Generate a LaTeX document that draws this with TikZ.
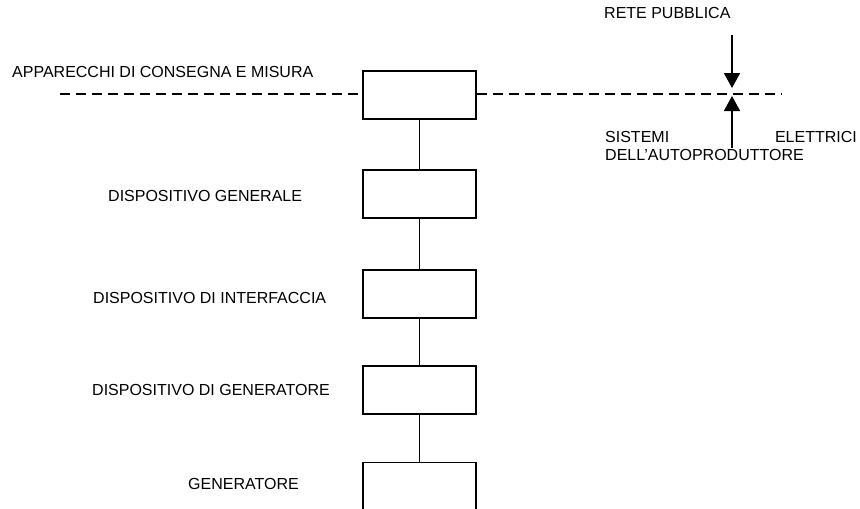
\documentclass[tikz,border=0pt]{standalone}
\usepackage{fontspec}
\setmainfont{Liberation Sans}
\usetikzlibrary{arrows.meta}

\begin{document}
\begin{tikzpicture}[x=1pt,y=-1pt,font=\fontsize{16}{19}\selectfont]

%
% Styles
%
\tikzstyle{block} = [rectangle,draw=black,line width=1.8pt,minimum width=113pt,minimum height=48pt,inner sep=0pt]
\tikzstyle{label} = [anchor=base west,inner sep=0pt]
\tikzstyle{link} = [draw=black,line width=1.8pt]
\tikzstyle{arrow} = [link,-{Triangle[length=15pt,width=16pt]}]

\useasboundingbox (0,0) rectangle (860,509);
\clip (0,0) rectangle (860,509);

\node[block] (misura)     at (419.5, 95)  {};
\node[block] (generale)   at (419.5,194)  {};
\node[block] (interfaccia) at (419.5,294) {};
\node[block] (dispgen)    at (419.5,390)  {};
\node[block] (gen)        at (419.5,486.5) {};

\node[label] (tmisura)      at ( 12, 77) {APPARECCHI DI CONSEGNA E MISURA};
\node[label] (tgenerale)    at (108,201) {DISPOSITIVO GENERALE};
\node[label] (tinterfaccia) at ( 93,303) {DISPOSITIVO DI INTERFACCIA};
\node[label] (tdispgen)     at ( 92,395) {DISPOSITIVO DI GENERATORE};
\node[label] (tgen)         at (188,489) {GENERATORE};

\node[label] (rete)    at (604, 18) {RETE PUBBLICA};
\node[label] (sistemi) at (605,142) {SISTEMI};
\node[label,anchor=base east] (elettrici) at (857,142) {ELETTRICI};
\node[label] (autoprod) at (605,160) {DELL'AUTOPRODUTTORE};

\coordinate (dl) at ( 60,94);
\coordinate (dr) at (782,94);
\coordinate (top) at (732, 35);
\coordinate (bot) at (732,148);
\coordinate (tipd) at (732, 88);
\coordinate (tipu) at (732, 96);

\path[link,dash pattern=on 10pt off 6pt] (dl) -- (misura.west |- dl);
\path[link,dash pattern=on 10pt off 6pt] (misura.east |- dr) -- (dr);

\path[link] (misura) -- (generale);
\path[link] (generale) -- (interfaccia);
\path[link] (interfaccia) -- (dispgen);
\path[link] (dispgen) -- (gen);

\path[arrow] (top) -- (tipd);
\path[arrow] (bot) -- (tipu);

\end{tikzpicture}
\end{document}
